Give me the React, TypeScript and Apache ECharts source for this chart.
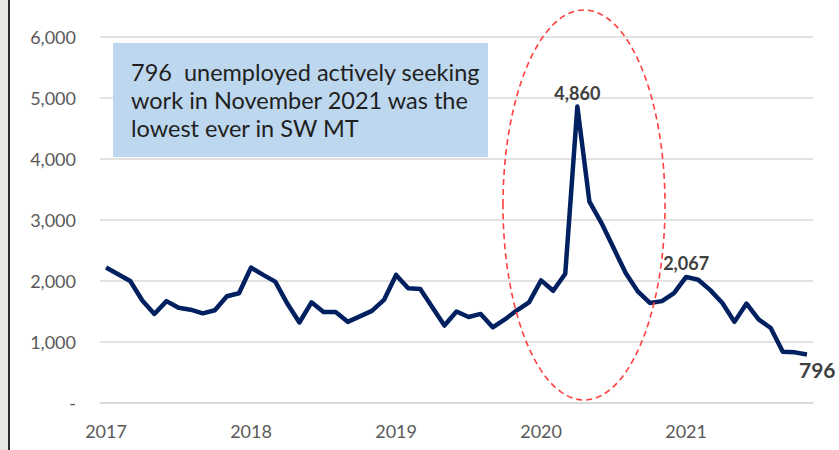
import React, { useEffect, useRef } from "react";
import * as echarts from "echarts";

const years = [2017, 2018, 2019, 2020, 2021];
const monthsPerYear = 12;
const lastMonthCount = 11; // data ends November 2021

const unemployed = [
  2220, 2110, 2000, 1680, 1460, 1670, 1560, 1530, 1470, 1520, 1750, 1800,
  2220, 2100, 1990, 1630, 1320, 1650, 1490, 1490, 1330, 1420, 1510, 1690,
  2100, 1880, 1870, 1570, 1270, 1500, 1410, 1460, 1240, 1370, 1520, 1650,
  2010, 1840, 2120, 4860, 3300, 2950, 2540, 2130, 1830, 1640, 1670, 1800,
  2067, 2020, 1850, 1640, 1330, 1630, 1370, 1230, 840, 830, 796,
];

const yTicks = [0, 1000, 2000, 3000, 4000, 5000, 6000];
const calloutLines = [
  "796  unemployed actively seeking",
  "work in November 2021 was the",
  "lowest ever in SW MT",
];

const categories: string[] = [];
years.forEach((y, yi) => {
  const n = yi === years.length - 1 ? lastMonthCount : monthsPerYear;
  for (let m = 1; m <= n; m++) categories.push(`${y}-${String(m).padStart(2, "0")}`);
});

const font = "Lato, 'Open Sans', sans-serif";

const labelled: Record<number, any> = {
  39: { show: true, position: "top", distance: 5, fontSize: 18, fontWeight: "bold", color: "#404040", fontFamily: font, formatter: "4,860" },
  48: { show: true, position: "top", distance: 5, offset: [6, 0], fontSize: 18, fontWeight: "bold", color: "#404040", fontFamily: font, formatter: "2,067" },
  58: { show: true, position: [-8, 5], align: "left", verticalAlign: "top", fontSize: 21, fontWeight: "bold", color: "#404040", fontFamily: font, formatter: "796" },
};

export default function App() {
  const ref = useRef<HTMLDivElement>(null);
  useEffect(() => {
    if (!ref.current) return;
    const chart = echarts.init(ref.current, undefined, { renderer: "svg" });
    const seriesData = unemployed.map((v, i) =>
      labelled[i] ? { value: v, label: labelled[i] } : v
    );
    chart.setOption({
      animation: false,
      backgroundColor: "#ffffff",
      textStyle: { fontFamily: font },
      grid: { left: 100, right: 26, top: 37, bottom: 47, containLabel: false },
      xAxis: {
        type: "category",
        data: categories,
        boundaryGap: true,
        axisLine: { show: true, lineStyle: { color: "#d9d9d9", width: 1.5 } },
        axisTick: { show: false },
        axisLabel: {
          interval: (i: number) => i % 12 === 0,
          formatter: (v: string) => v.slice(0, 4),
          color: "#595959",
          fontSize: 18,
          margin: 19,
          fontFamily: font,
        },
        splitLine: { show: false },
      },
      yAxis: {
        type: "value",
        min: yTicks[0],
        max: yTicks[yTicks.length - 1],
        interval: 1000,
        axisLine: { show: false },
        axisTick: { show: false },
        axisLabel: {
          color: "#595959",
          fontSize: 18,
          margin: 24,
          fontFamily: font,
          formatter: (v: number) => (v === 0 ? "-" : v.toLocaleString("en-US")),
        },
        splitLine: { lineStyle: { color: "#d9d9d9", width: 1.5 } },
      },
      series: [
        {
          type: "line",
          data: seriesData,
          symbol: "circle",
          symbolSize: 0,
          showSymbol: true,
          lineStyle: { color: "#002060", width: 4.5, join: "round" },
          itemStyle: { color: "#002060" },
          label: { show: false, fontFamily: font },
          labelLayout: { hideOverlap: false },
        },
      ],
      graphic: [
        { type: "rect", left: 0, top: 0, shape: { width: 8, height: 450 }, style: { fill: "#e9e7e4" }, silent: true },
        { type: "rect", left: 8, top: 0, shape: { width: 2, height: 450 }, style: { fill: "#2b2b2b" }, silent: true },
        {
          type: "rect",
          shape: { x: 113, y: 43, width: 375, height: 114 },
          style: { fill: "#bdd7ee" },
          z: 10,
        },
        ...calloutLines.map((t, i) => ({
          type: "text",
          x: 131,
          y: 72 + i * 28,
          z: 11,
          style: {
            text: t,
            fill: "#1f1f1f",
            font: `23.5px ${font}`,
            textVerticalAlign: "middle",
            verticalAlign: "middle",
          },
        })),
        {
          type: "ellipse",
          shape: { cx: 584, cy: 205, rx: 81, ry: 195 },
          style: { fill: "none", stroke: "#ff4040", lineWidth: 1.6, lineDash: [6, 4] },
          z: 12,
        },
      ],
    });
    return () => chart.dispose();
  }, []);
  return (
    <div
      ref={ref}
      style={{ position: "fixed", left: 0, top: 0, width: 839, height: 450, background: "#fff" }}
    />
  );
}
